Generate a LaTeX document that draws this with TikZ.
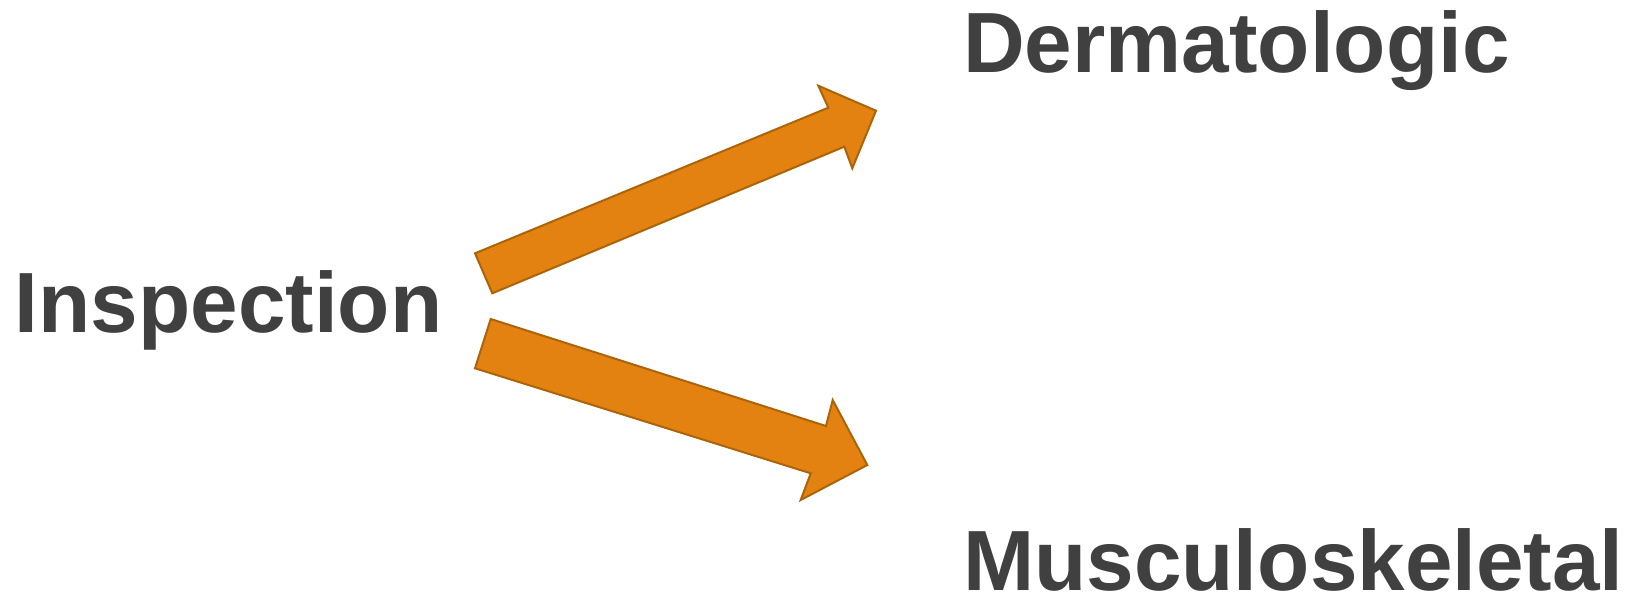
\documentclass[tikz,border=0pt]{standalone}
\usepackage{fontspec}
\setmainfont{Liberation Sans}
\definecolor{labelgray}{HTML}{404040}
\definecolor{arrowfill}{HTML}{E38211}
\definecolor{arrowedge}{HTML}{AC6409}
\tikzset{
  term/.style={anchor=base west, inner sep=0pt, text=labelgray,
    font=\fontsize{85.5}{90}\selectfont\bfseries},
  blockarrow/.style={fill=arrowfill, draw=arrowedge, line width=2pt, line join=miter}
}
\begin{document}
\begin{tikzpicture}[x=1pt, y=-1pt]
\useasboundingbox (0,0) rectangle (1630,596);

% labels
\node[term] (insp) at (14.6,332.2) {Inspection};
\node[term] (derm) at (963,72.5) {Dermatologic};
\node[term] (musc) at (963,590.5) {Musculoskeletal};

% upward block arrow towards the upper label
\draw[blockarrow] (475,253.3) -- (828.3,107.7) -- (818.3,85.7) -- (876,110.7)
  -- (852.3,168.3) -- (844.3,146.7) -- (492.3,293.3) -- cycle;

% downward block arrow towards the lower label
\draw[blockarrow] (490.7,319) -- (826,426) -- (832.7,400) -- (867.3,465)
  -- (800.7,500) -- (810.7,473.3) -- (475,368.3) -- cycle;
\end{tikzpicture}
\end{document}
